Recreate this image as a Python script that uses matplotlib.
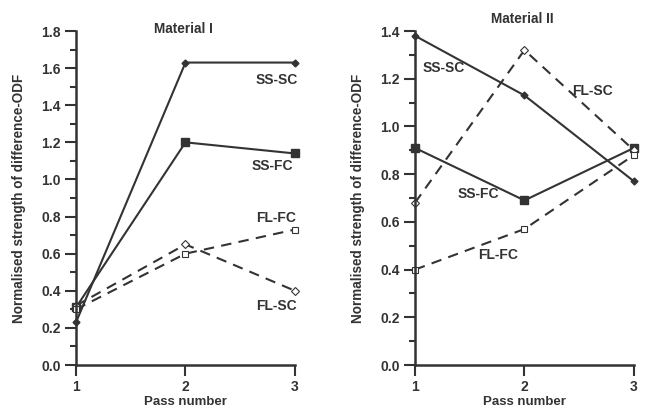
import matplotlib
matplotlib.use('Agg')
import matplotlib.pyplot as plt
from matplotlib.ticker import MultipleLocator

plt.rcParams['font.family'] = ['Liberation Sans', 'DejaVu Sans']
plt.rcParams['font.weight'] = 'bold'

passes = [1, 2, 3]

# Material I
m1_ss_sc = [0.23, 1.63, 1.63]
m1_ss_fc = [0.31, 1.20, 1.14]
m1_fl_fc = [0.30, 0.60, 0.73]
m1_fl_sc = [0.32, 0.65, 0.40]

# Material II
m2_ss_sc = [1.38, 1.13, 0.77]
m2_ss_fc = [0.91, 0.69, 0.91]
m2_fl_sc = [0.68, 1.32, 0.90]
m2_fl_fc = [0.40, 0.57, 0.88]

col = '#333333'
dash = (0, (5, 3.5))


def draw_panel(ax, ss_sc, ss_fc, fl_sc, fl_fc, ymax, title, title_y, labels):
    ax.plot(passes, ss_sc, color=col, lw=1.5, marker='D', ms=3.5)
    ax.plot(passes, ss_fc, color=col, lw=1.5, marker='s', ms=6)
    ax.plot(passes, fl_sc, color=col, lw=1.5, ls=dash, marker='D', ms=4,
            mfc='white', mec=col, mew=0.8)
    ax.plot(passes, fl_fc, color=col, lw=1.5, ls=dash, marker='s', ms=5,
            mfc='white', mec=col, mew=0.8)
    for txt, x, y in labels:
        ax.text(x, y, txt, ha='center', va='center', fontsize=10,
                fontweight='bold', color=col)
    ax.set_xlim(1, 3)
    ax.set_ylim(0, ymax)
    ax.set_xticks(passes)
    ax.yaxis.set_major_locator(MultipleLocator(0.2))
    ax.yaxis.set_minor_locator(MultipleLocator(0.1))
    ax.yaxis.set_major_formatter(plt.FormatStrFormatter('%.1f'))
    ax.spines['top'].set_visible(False)
    ax.spines['right'].set_visible(False)
    for s in ('left', 'bottom'):
        ax.spines[s].set_linewidth(1.8)
        ax.spines[s].set_color(col)
    ax.tick_params(axis='both', which='major', direction='out', length=8,
                   width=1.5, color=col, labelsize=10, labelcolor=col, pad=3)
    ax.tick_params(axis='y', which='minor', direction='out', length=4,
                   width=1.5, color=col)
    for lab in ax.get_xticklabels() + ax.get_yticklabels():
        lab.set_fontweight('bold')
    ax.set_xlabel('Pass number', fontsize=9.5, fontweight='bold', color=col,
                  labelpad=1)
    ax.set_ylabel('Normalised strength of difference-ODF', fontsize=9.75,
                  fontweight='bold', color=col)
    ax.yaxis.set_label_coords(-0.228, 0.5)
    ax.text(0.49, title_y, title, transform=ax.transAxes, ha='center',
            va='baseline', fontsize=9.8, fontweight='bold', color=col)
    for l in ax.lines:
        l.set_clip_on(False)


fig = plt.figure(figsize=(6.49, 4.13), dpi=100)
ax1 = fig.add_axes([0.1171, 0.1162, 0.3374, 0.8087])
ax2 = fig.add_axes([0.6394, 0.1162, 0.3374, 0.8087])

draw_panel(ax1, m1_ss_sc, m1_ss_fc, m1_fl_sc, m1_fl_fc, 1.8, 'Material I', 0.994,
           [('SS-SC', 2.83, 1.535), ('SS-FC', 2.79, 1.07),
            ('FL-FC', 2.83, 0.79), ('FL-SC', 2.83, 0.32)])
draw_panel(ax2, m2_ss_sc, m2_ss_fc, m2_fl_sc, m2_fl_fc, 1.4, 'Material II', 1.024,
           [('SS-SC', 1.26, 1.245), ('FL-SC', 2.62, 1.15),
            ('SS-FC', 1.58, 0.717), ('FL-FC', 1.76, 0.461)])

plt.savefig('out.png', dpi=100)
plt.close()
